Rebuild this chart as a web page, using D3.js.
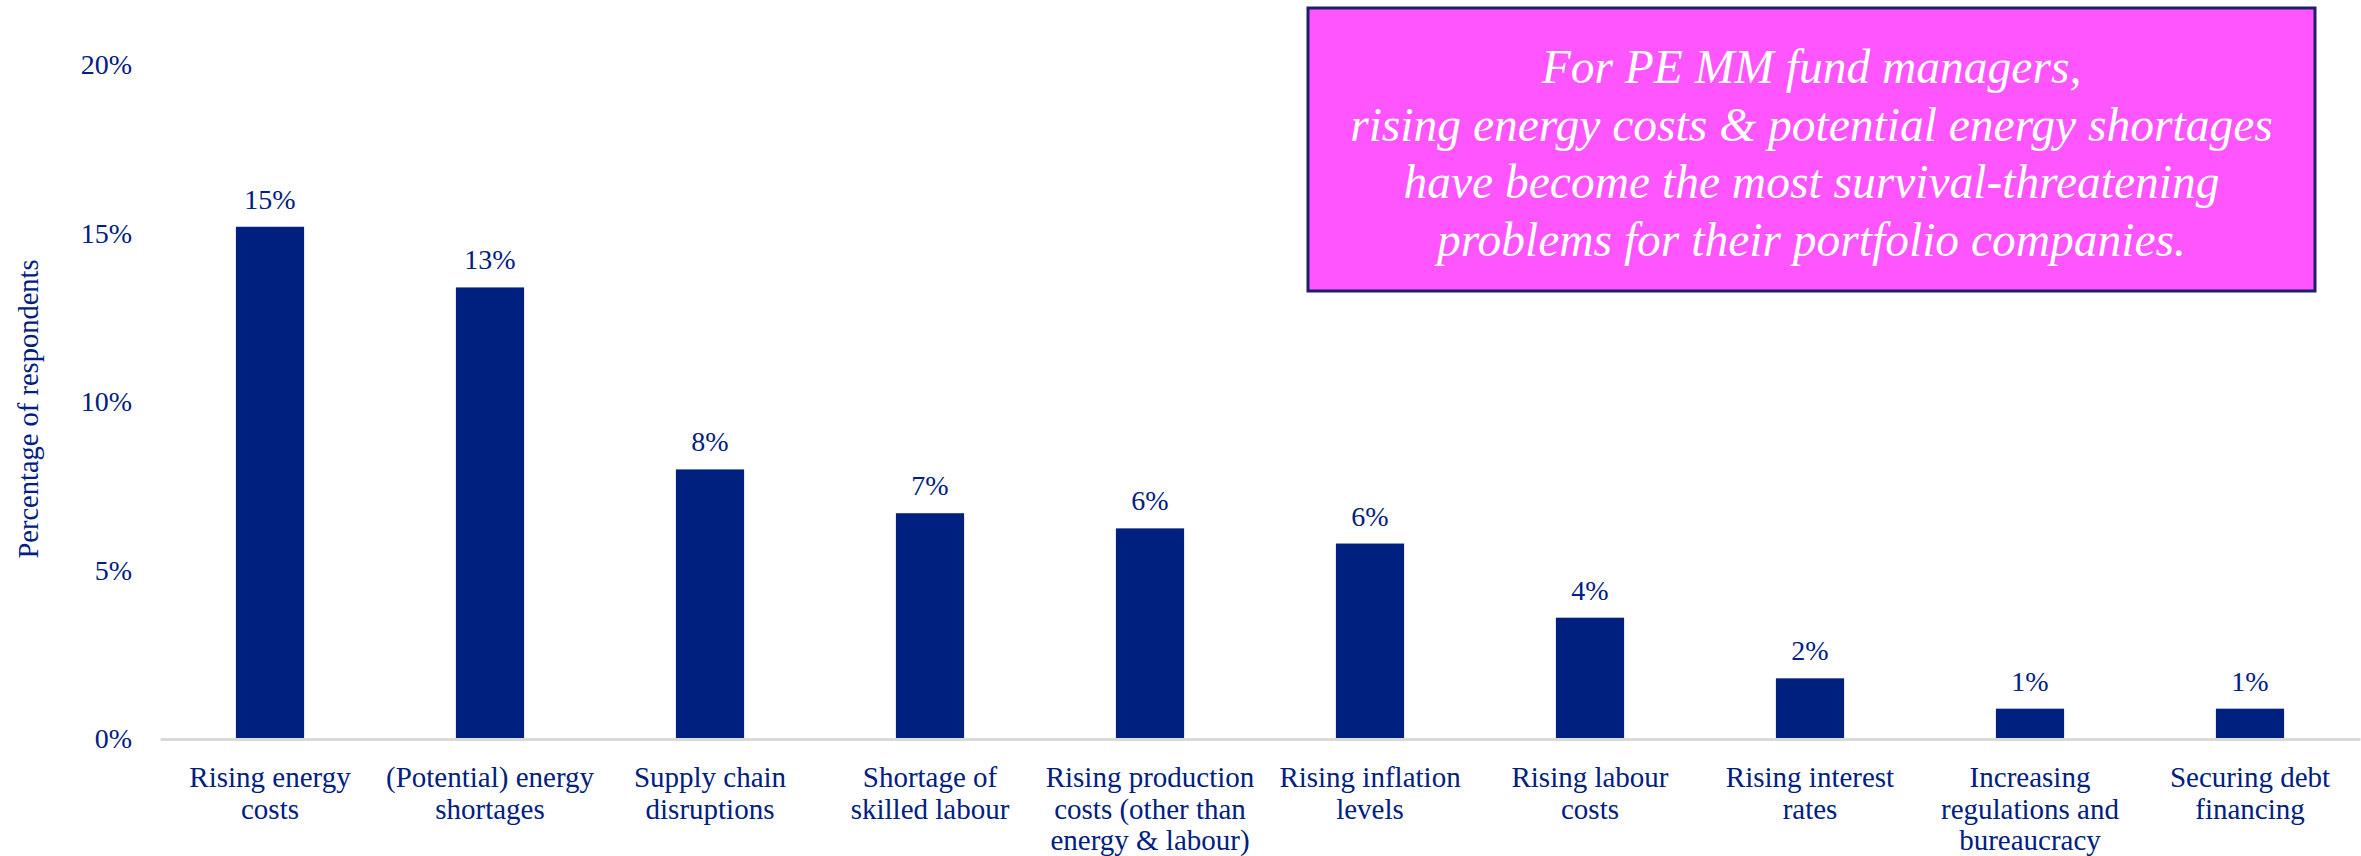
<html><head>
<script src="https://d3js.org/d3.v7.min.js"></script>
<style>
  body { margin: 0; background: #fff; }
  text { font-family: "Liberation Serif", "Times New Roman", serif; }
  .axis text { fill: #00207f; font-size: 28px; }
  .x.axis text { font-size: 29px; }
  .x.axis .domain { stroke: #d9d9d9; stroke-width: 3; }
  .y.axis .domain { stroke: none; }
</style>
</head>
<body>
<svg id="chart" width="2361" height="856"></svg>
<script>

// data
const categories = [
  "Rising energy\ncosts",
  "(Potential) energy\nshortages",
  "Supply chain\ndisruptions",
  "Shortage of\nskilled labour",
  "Rising production\ncosts (other than\nenergy & labour)",
  "Rising inflation\nlevels",
  "Rising labour\ncosts",
  "Rising interest\nrates",
  "Increasing\nregulations and\nbureaucracy",
  "Securing debt\nfinancing"
];
const values = [15.2, 13.4, 8.0, 6.7, 6.25, 5.8, 3.6, 1.8, 0.9, 0.9];
const yTicks = [0, 5, 10, 15, 20];
const noteLines = [
  "For PE MM fund managers,",
  "rising energy costs & potential energy shortages",
  "have become the most survival-threatening",
  "problems for their portfolio companies."
];

const navy = "#00207f";
const svg = d3.select("#chart");

const margin = {top: 65, right: 1, bottom: 117, left: 160};
const width = +svg.attr("width");
const height = +svg.attr("height");

const x = d3.scaleBand()
  .domain(categories)
  .range([margin.left, width - margin.right])
  .paddingInner(0.69)
  .paddingOuter(0.345);

const y = d3.scaleLinear()
  .domain([0, 20])
  .range([height - margin.bottom, margin.top]);

// y axis, labels only
svg.append("g")
  .attr("class", "y axis")
  .attr("transform", "translate(" + (margin.left - 28) + ",0)")
  .call(d3.axisLeft(y).tickValues(yTicks).tickSize(0).tickPadding(0)
        .tickFormat(d => d + "%"));

svg.append("text")
  .attr("transform", "translate(28," + 409 + ") rotate(-90)")
  .attr("text-anchor", "middle")
  .attr("dominant-baseline", "central")
  .attr("fill", navy)
  .style("font-size", "28.5px")
  .text("Percentage of respondents");

// bars
svg.append("g").selectAll("rect")
  .data(values)
  .join("rect")
    .attr("x", (d, i) => x(categories[i]))
    .attr("width", x.bandwidth())
    .attr("y", d => y(d))
    .attr("height", d => y(0) - y(d))
    .attr("fill", navy);

// value labels
svg.append("g").selectAll("text")
  .data(values)
  .join("text")
    .attr("x", (d, i) => x(categories[i]) + x.bandwidth() / 2)
    .attr("y", d => y(d) - 18)
    .attr("text-anchor", "middle")
    .attr("fill", navy)
    .style("font-size", "28px")
    .text(d => Math.round(d) + "%");

// x axis with wrapped labels
const xAxis = svg.append("g")
  .attr("class", "x axis")
  .attr("transform", "translate(0," + y(0) + ")")
  .call(d3.axisBottom(x).tickSize(0).tickSizeOuter(0));

xAxis.selectAll(".tick text").each(function(d) {
  const t = d3.select(this);
  t.text(null).attr("y", 0).attr("dy", null);
  d.split("\n").forEach((line, i) => {
    t.append("tspan")
      .attr("x", 0)
      .attr("y", 48 + i * 31.5)
      .text(line);
  });
});

// callout box
const box = {x: 1308, y: 8, w: 1007, h: 283};
svg.append("rect")
  .attr("x", box.x).attr("y", box.y)
  .attr("width", box.w).attr("height", box.h)
  .attr("fill", "#ff55ff")
  .attr("stroke", "#1a1f66")
  .attr("stroke-width", 3);

svg.append("g").selectAll("text")
  .data(noteLines)
  .join("text")
    .attr("x", box.x + box.w / 2)
    .attr("y", (d, i) => 83 + i * 57.7)
    .attr("text-anchor", "middle")
    .attr("fill", "#ffffff")
    .style("font-style", "italic")
    .style("font-size", "47.5px")
    .text(d => d);

</script>
</body>
</html>
